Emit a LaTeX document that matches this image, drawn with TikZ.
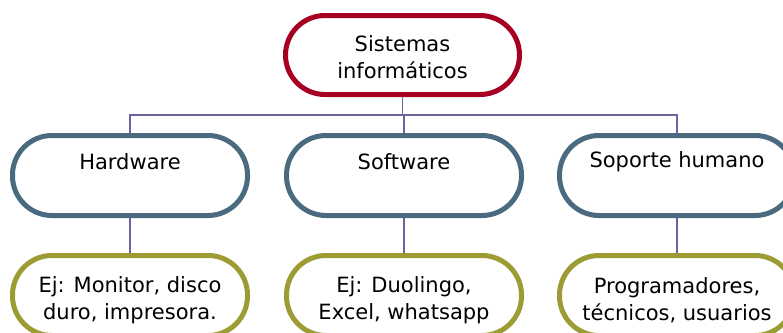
\documentclass[tikz,border=0pt]{standalone}
\usepackage{fontspec}
\setmainfont{DejaVu Sans}
\definecolor{topred}{HTML}{A50021}
\definecolor{midblue}{HTML}{4A6A80}
\definecolor{lowolive}{HTML}{9C9B34}
\definecolor{connpurple}{HTML}{6A64A0}
\begin{document}
\begin{tikzpicture}[x=1pt,y=-1pt,
  box/.style={draw, line width=5pt, rounded corners=39.5pt, minimum width=235pt, minimum height=80pt, fill=white, inner sep=0pt},
  topbox/.style={box, draw=topred, minimum width=234pt, minimum height=79pt},
  midbox/.style={box, draw=midblue},
  lowbox/.style={box, draw=lowolive},
  lbl/.style={font=\fontsize{21}{27}\selectfont, align=center, text=black, inner sep=0pt},
  conn/.style={draw=connpurple, line width=1.5pt}]
\useasboundingbox (0,0) rectangle (783,332);
\clip (0,0) rectangle (783,332);
\node[topbox] (top) at (402.5,55) {};
\node[midbox] (hw) at (130,175.5) {};
\node[midbox] (sw) at (404,175.5) {};
\node[midbox] (sh) at (677,175.5) {};
\node[lowbox] (hwex) at (130,295.5) {};
\node[lowbox] (swex) at (404,295.5) {};
\node[lowbox] (shex) at (677,295.5) {};
\draw[conn] (top.south) -- (top.south |- 0,115) coordinate (j);
\draw[conn] (hw.north) |- (j) -| (sh.north);
\draw[conn] (sw.north) -- (sw.north |- j);
\draw[conn] (hw.south) -- (hwex.north);
\draw[conn] (sw.south) -- (swex.north);
\draw[conn] (sh.south) -- (shex.north);
\node[lbl] (toptxt) at (402.5,57) {Sistemas\\informáticos};
\node[lbl] (hwtxt) at (130,162) {Hardware};
\node[lbl] (swtxt) at (404,162) {Software};
\node[lbl] (shtxt) at (677,162) {Soporte humano};
\node[lbl] (hwextxt) at (130,300) {Ej: Monitor, disco\\duro, impresora.};
\node[lbl] (swextxt) at (404,300) {Ej: Duolingo,\\Excel, whatsapp};
\node[lbl] (shextxt) at (677,300) {Programadores,\\técnicos, usuarios};
\end{tikzpicture}
\end{document}
